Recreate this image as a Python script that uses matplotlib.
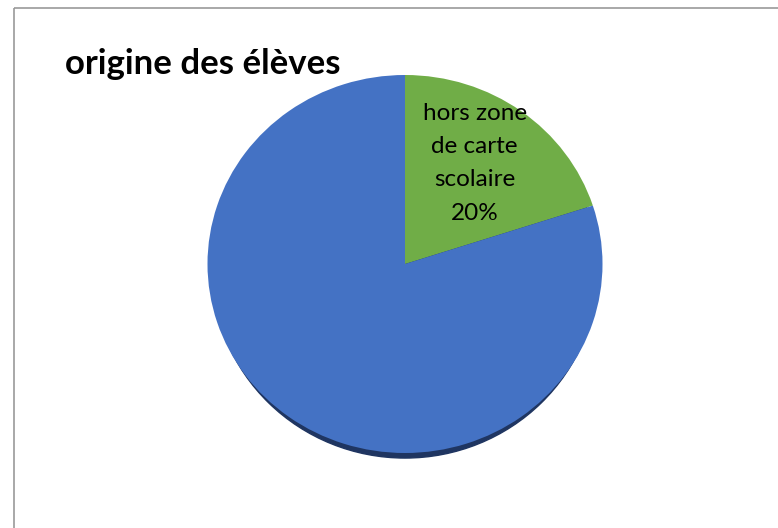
import matplotlib
matplotlib.use("Agg")
import matplotlib.pyplot as plt
from matplotlib.patches import Ellipse, Rectangle

categories = ["hors zone de carte scolaire", "zone de carte scolaire"]
values = [20, 80]
colors = ["#70AD47", "#4472C4"]
shown = [True, False]
title = "origine des élèves"

W, H = 778, 528
CX, CY = 405, 264   # pie centre, pixels from top-left
RX, RY = 197.5, 189  # pie radii, pixels

plt.rcParams["font.family"] = ["Lato", "DejaVu Sans"]

fig = plt.figure(figsize=(W / 100, H / 100), dpi=100)

# background frame (only top/left edges visible in the crop)
bg = fig.add_axes([0, 0, 1, 1])
bg.set_xlim(0, W)
bg.set_ylim(H, 0)
bg.axis("off")
bg.add_patch(Rectangle((14, 8), W + 20, H + 20, fill=False, ec="#9a9a9a", lw=1.2))

ax = fig.add_axes([0, 0, 1, 1])
ax.patch.set_alpha(0)

# drop shadow under the pie
ax.add_patch(Ellipse((0, -6 / RY), 2 * 0.975, 2 * 0.995, color="#1f3561", zorder=0))

labels_iter = iter(zip(categories, shown))


def fmt(pct):
    name, show = next(labels_iter)
    if not show:
        return ""
    return name.replace("hors zone de carte scolaire", "hors zone\nde carte\nscolaire") + f"\n{pct:.0f}%"


wedges, texts, autotexts = ax.pie(
    values, colors=colors, startangle=90, counterclock=False,
    autopct=fmt, pctdistance=0.6, radius=1,
    wedgeprops=dict(linewidth=0, zorder=1),
    textprops=dict(fontsize=17.5, color="black", linespacing=1.72),
)
for t in autotexts:
    t.set_ha("center")
    t.set_va("center")
    x, y = t.get_position()
    t.set_position((x, y + 9 / RY))  # label box sits a bit higher than the slice centre

ax.set_aspect("auto")
ax.set_xlim(-CX / RX, (W - CX) / RX)
ax.set_ylim((CY - H) / RY, CY / RY)
ax.axis("off")

fig.text(65 / W, 1 - 64 / H, title, fontsize=25, fontweight="bold",
         ha="left", va="center")

fig.savefig("out.png", dpi=100)
